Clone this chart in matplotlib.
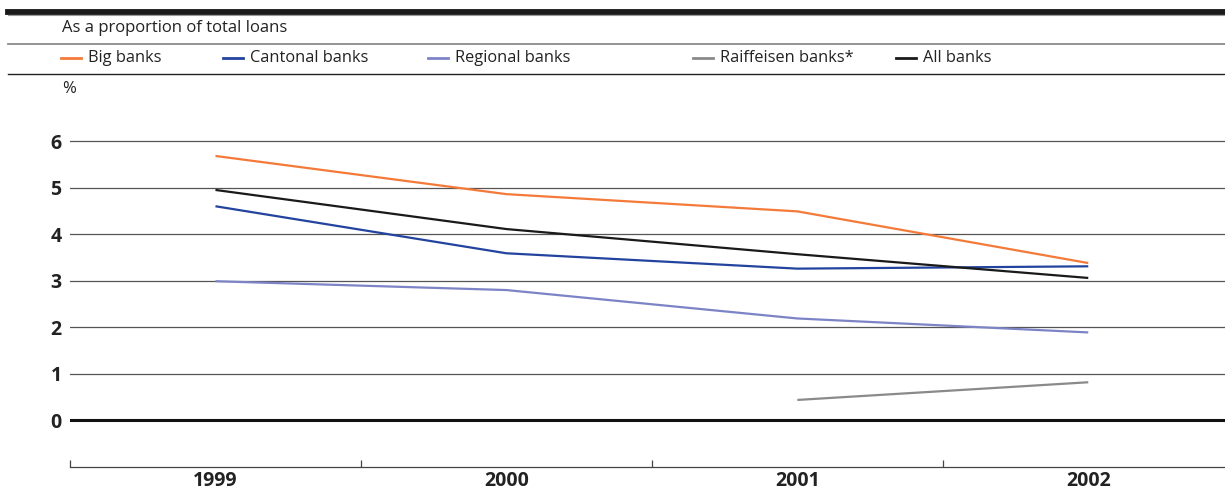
import numpy as np
import matplotlib
matplotlib.use("Agg")
import matplotlib.pyplot as plt
from matplotlib.lines import Line2D

# ---- data ----
years = ["1999", "2000", "2001", "2002"]
big_banks = [5.68, 4.86, 4.49, 3.38]
cantonal_banks = [4.60, 3.59, 3.26, 3.31]
regional_banks = [2.99, 2.80, 2.19, 1.89]
raiffeisen_banks = [np.nan, np.nan, 0.44, 0.82]
all_banks = [4.95, 4.11, 3.57, 3.06]

series_names = ["Big banks", "Cantonal banks", "Regional banks", "Raiffeisen banks*", "All banks"]
series_values = [big_banks, cantonal_banks, regional_banks, raiffeisen_banks, all_banks]
series_colors = ["#F47A3A", "#23449E", "#7C84C6", "#8A8A8A", "#1A1A1A"]
y_ticks = [0, 1, 2, 3, 4, 5, 6]

subtitle = "As a proportion of total loans"
unit_label = "%"

W, H = 1225, 492
plt.rcParams["font.family"] = ["Open Sans", "DejaVu Sans"]
fig = plt.figure(figsize=(W / 100, H / 100), dpi=100)


def fx(px):
    return px / W


def fy(py):
    return 1 - py / H


# ---- header rules and text ----
fig.add_artist(Line2D([fx(8), 1], [fy(11.5), fy(11.5)], color="#1a1a1a", lw=4.2,
                      transform=fig.transFigure))
fig.add_artist(Line2D([fx(8), 1], [fy(14.5), fy(14.5)], color="#999999", lw=0.8,
                      transform=fig.transFigure))
fig.text(fx(62), fy(28), subtitle, fontsize=12, color="#222222", va="center", ha="left")
fig.add_artist(Line2D([fx(8), 1], [fy(44), fy(44)], color="#8a8a8a", lw=1.3,
                      transform=fig.transFigure))
fig.add_artist(Line2D([fx(8), 1], [fy(74), fy(74)], color="#222222", lw=1.0,
                      transform=fig.transFigure))
fig.text(fx(62), fy(89), unit_label, fontsize=12, color="#222222", va="center", ha="left")

# legend entries laid out across the header band
legend_x = [61, 223, 428, 693, 896]
for x0, name, col in zip(legend_x, series_names, series_colors):
    fig.add_artist(Line2D([fx(x0), fx(x0 + 20)], [fy(58), fy(58)], color=col, lw=2.0,
                          transform=fig.transFigure))
    fig.text(fx(x0 + 27), fy(58), name, fontsize=11.8, color="#222222",
             va="center", ha="left")

# ---- plot area ----
ax_left, ax_right = 70, 1225
ax_top, ax_bottom = 94.5, 467
ax = fig.add_axes([fx(ax_left), fy(ax_bottom), fx(ax_right - ax_left),
                   (ax_bottom - ax_top) / H])

x = np.arange(len(years))
for vals, col in zip(series_values, series_colors):
    ax.plot(x, vals, color=col, lw=1.6, solid_capstyle="butt", zorder=3)

ax.set_xlim(-0.5, 3.47)
ax.set_ylim(-1, 7)

for t in y_ticks:
    if t == 0:
        ax.axhline(t, color="#111111", lw=2.2, zorder=2)
    else:
        ax.axhline(t, color="#555555", lw=0.9, zorder=1)

ax.set_yticks(y_ticks)
ax.set_yticklabels([str(t) for t in y_ticks], fontsize=14, fontweight="bold",
                   color="#222222")
ax.tick_params(axis="y", length=0, pad=6)

ax.set_xticks(x)
ax.set_xticklabels(years, fontsize=14, fontweight="bold", color="#222222")
ax.tick_params(axis="x", which="major", length=0, pad=3)
ax.set_xticks(np.arange(-0.5, 3.0, 1.0), minor=True)
ax.tick_params(axis="x", which="minor", direction="in", length=5, width=0.9,
               color="#444444")

for side in ["top", "right", "left"]:
    ax.spines[side].set_visible(False)
ax.spines["bottom"].set_color("#444444")
ax.spines["bottom"].set_linewidth(0.9)
ax.patch.set_alpha(0)

fig.savefig("out.png", dpi=100)
